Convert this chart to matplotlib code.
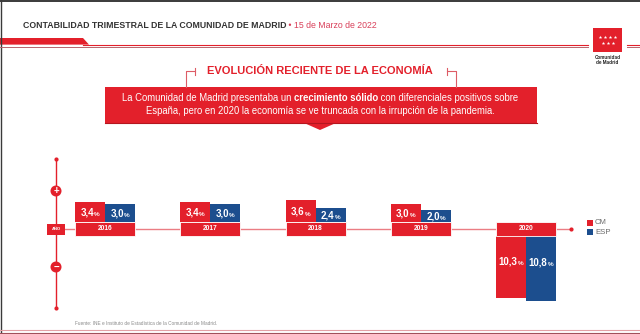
import numpy as np
import matplotlib.pyplot as plt
from matplotlib.patches import Polygon, Rectangle, Circle

# PIB: variación anual (%)
years = ['2016', '2017', '2018', '2019', '2020']
cm = [3.4, 3.4, 3.6, 3.0, -10.3]
esp = [3.0, 3.0, 2.4, 2.0, -10.8]
series_names = ['CM', 'ESP']

RED = '#E3202B'
BLUE = '#1C4E8E'
PINK = '#EB7D84'
DARK = '#333333'

plt.rcParams['font.family'] = ['Liberation Sans', 'DejaVu Sans']

fig = plt.figure(figsize=(6.4, 3.34), dpi=100)

# capa de fondo en pixeles
deco = fig.add_axes([0, 0, 1, 1])
deco.set_xlim(0, 640)
deco.set_ylim(334, 0)
deco.axis('off')

# marco
deco.plot([0, 640], [0.6, 0.6], color='#3a3a3a', lw=1.4)
deco.plot([0.6, 0.6], [0, 334], color='#3a3a3a', lw=1.0)

# cabecera
deco.add_patch(Polygon([(0, 38), (83, 38), (89, 44.6), (0, 44.6)], color=RED, lw=0))
for xs in ([83, 588], [627, 640]):
    deco.plot(xs, [44.6, 44.6], color=RED, lw=0.8)
for xs in ([0, 588], [627, 640]):
    deco.plot(xs, [47.4, 47.4], color='#B8646C', lw=0.7)

h1 = deco.text(23, 26, 'CONTABILIDAD TRIMESTRAL DE LA COMUNIDAD DE MADRID',
               ha='left', va='center', color=DARK, fontsize=6.3, fontweight='bold')
deco.annotate(' \u2022 15 de Marzo de 2022', xy=(1, 0), xycoords=h1,
              ha='left', va='bottom', color='#D9405A', fontsize=6.3)

# logo
deco.add_patch(Rectangle((593, 28), 29, 24, color=RED, lw=0))
sx = [600, 605, 610, 615, 602.5, 607.5, 612.5]
sy = [37, 37, 37, 37, 43, 43, 43]
deco.scatter(sx, sy, marker='*', s=7, color='white', lw=0, zorder=3)
deco.text(607.5, 57.5, 'Comunidad', ha='center', va='center', fontsize=3.3,
          fontweight='bold', color='#222222')
deco.text(607.5, 63, 'de Madrid', ha='center', va='center', fontsize=3.3,
          fontweight='bold', color='#222222')

# titulo de seccion
deco.text(320, 71.5, 'EVOLUCIÓN RECIENTE DE LA ECONOMÍA', ha='center', va='center',
          color=RED, fontsize=8.0, fontweight='bold')
bk = dict(color='#DD5C66', lw=0.8)
deco.plot([186, 186, 195], [87, 71, 71], **bk)
deco.plot([195, 195], [67.5, 75], **bk)
deco.plot([456, 456, 447], [87, 71, 71], **bk)
deco.plot([447, 447], [67.5, 75], **bk)

# caja de texto
deco.add_patch(Rectangle((105, 87), 432, 36, color=RED, lw=0))
deco.plot([105, 537], [122.6, 122.6], color='#B5161F', lw=0.8)
deco.add_patch(Polygon([(303, 122.5), (337, 122.5), (320, 130)], color=RED, lw=0))

fs = 6.85
p1 = deco.text(0, 98, 'La Comunidad de Madrid presentaba un ', ha='left', va='center',
               color='white', fontsize=fs)
p2 = deco.annotate('crecimiento sólido', xy=(1, 0), xycoords=p1, ha='left', va='bottom',
                   color='white', fontsize=fs, fontweight='bold')
p3 = deco.annotate(' con diferenciales positivos sobre', xy=(1, 0), xycoords=p2,
                   ha='left', va='bottom', color='white', fontsize=fs)
deco.text(320, 110.5, 'España, pero en 2020 la economía se ve truncada con la irrupción de la pandemia.',
          ha='center', va='center', color='white', fontsize=fs)

# eje vertical con + y -
deco.plot([56, 56], [159, 308], color=RED, lw=1.0, zorder=2)
deco.scatter([56, 56], [159, 308], s=9, color=RED, lw=0, zorder=3)
for cy, sym in ((191, '+'), (267, '\u2212')):
    deco.add_patch(Circle((56, cy), 5.5, color=RED, lw=0, zorder=3))
    deco.text(56, cy, sym, ha='center', va='center', color='white', fontsize=7,
              fontweight='bold', zorder=4)
deco.add_patch(Rectangle((47, 223.5), 18, 11.5, color=RED, lw=0, zorder=3))
deco.text(56, 229.3, 'AÑO', ha='center', va='center', color='white', fontsize=3,
          fontweight='bold', zorder=4)

# linea temporal
deco.plot([65, 571], [229, 229], color=PINK, lw=1.0, zorder=1)
deco.scatter([571], [229], s=9, color=RED, lw=0, zorder=3)

# leyenda
for k, (name, col) in enumerate(zip(series_names, [RED, BLUE])):
    deco.add_patch(Rectangle((587, 220 + 9 * k), 6, 6, color=col, lw=0))
    deco.text(595, 223 + 9 * k, name, ha='left', va='center', color='#6a6a6a', fontsize=5.6)

# fuente y pie
deco.text(75, 323.5, 'Fuente: INE e Instituto de Estadística de la Comunidad de Madrid.',
          ha='left', va='center', color='#8a8a8a', fontsize=3.4)
deco.plot([0, 640], [329.5, 329.5], color='#E3A0A5', lw=0.8)
deco.plot([0, 640], [332.5, 332.5], color='#A0505A', lw=0.8)

# grafico de barras
ax = fig.add_axes([0, 0, 1, 1], zorder=2)
ax.patch.set_alpha(0)
ax.axis('off')
step = 105.25      # px entre años
x0 = 105           # px del primer año
scale = 6.0        # px por punto porcentual
base = 229         # px de la linea temporal
ax.set_xlim(-x0 / step, (640 - x0) / step)
ax.set_ylim((base - 334) / scale, base / scale)

half = 7 / scale
bw = 30 / step
x = np.arange(len(years))

labels = []
for vals, col, off in ((cm, RED, -bw / 2), (esp, BLUE, bw / 2)):
    bottoms = [half if v > 0 else -half for v in vals]
    ax.bar(x + off, vals, width=bw, bottom=bottoms, color=col, lw=0)
    for i, v in enumerate(vals):
        yl = half + v / 2 if v > 0 else -half + v * 0.4
        num = ax.annotate(f'{abs(v):.1f}'.replace('.', ','), xy=(i + off, yl),
                          xytext=(0, -2.5), textcoords='offset points',
                          ha='left', va='baseline', color='white', fontsize=7,
                          fontweight='bold')
        pct = ax.annotate('%', xy=(1, 0), xycoords=num, ha='left', va='bottom',
                          color='white', fontsize=4.6, fontweight='bold')
        labels.append((num, pct))

ax.bar(x, 2 * half, bottom=-half, width=2 * bw, color=RED, edgecolor='white', lw=0.6)
for i, yr in enumerate(years):
    ax.text(i, 0, yr, ha='center', va='center', color='white', fontsize=4.8,
            fontweight='bold')

# centrar etiquetas compuestas
r = fig.canvas.get_renderer()
for num, pct in labels:
    w = num.get_window_extent(r).width + pct.get_window_extent(r).width
    num.xyann = (-w / 2 * 72 / fig.dpi, -2.5)
w = sum(t.get_window_extent(r).width for t in (p1, p2, p3))
p1.set_x(320 - w / 2)

fig.savefig('out.png', dpi=100)
